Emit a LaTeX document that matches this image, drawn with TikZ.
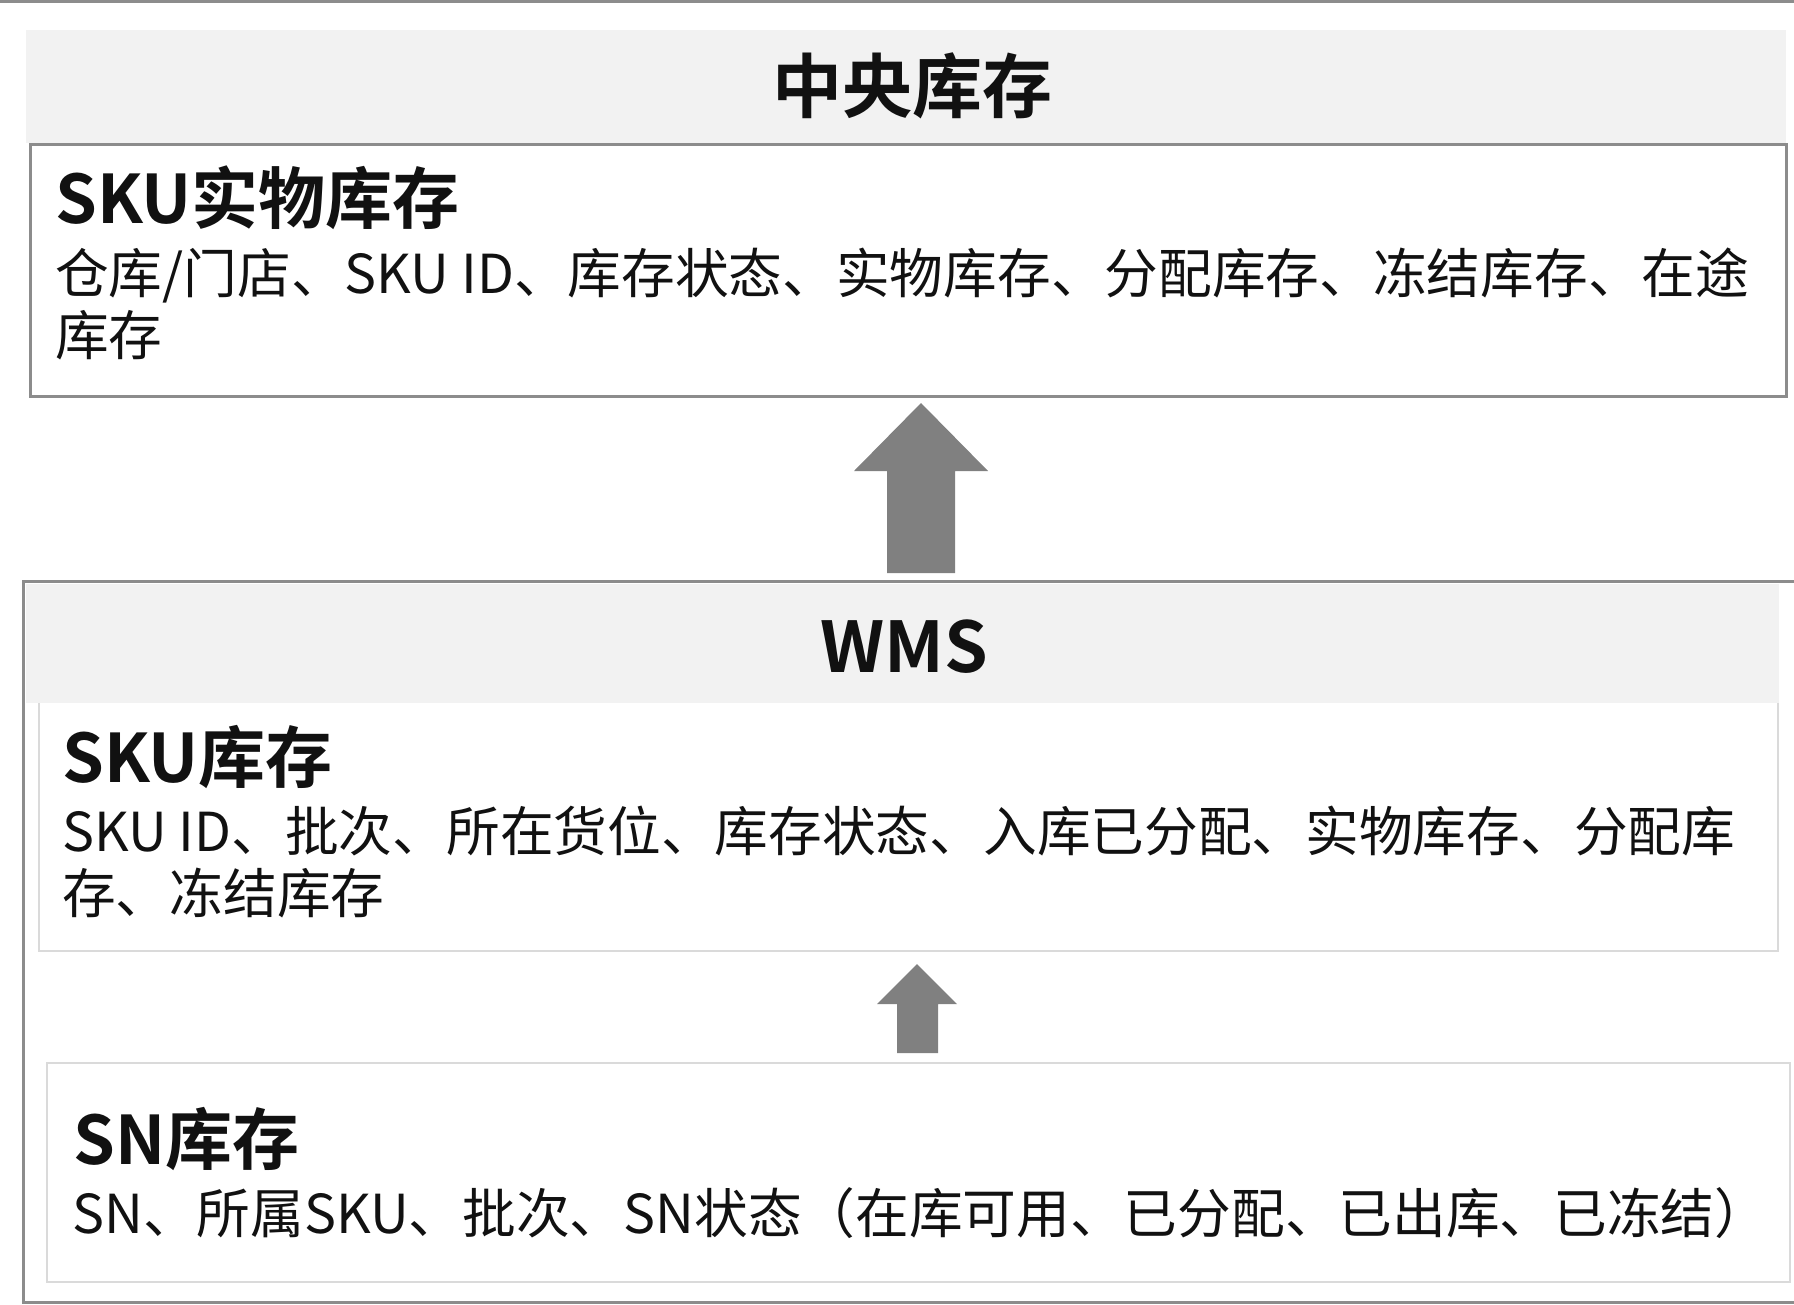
\documentclass[tikz,border=0pt]{standalone}
\usepackage{fontspec}
\setmainfont{Noto Sans CJK SC}[BoldFont={Noto Sans CJK SC Bold}]
\usetikzlibrary{calc}
\definecolor{edgegray}{HTML}{8C8C8C}
\definecolor{softedge}{HTML}{DADADA}
\definecolor{bandgray}{HTML}{F2F2F2}
\definecolor{arrowgray}{HTML}{808080}
\definecolor{ink}{HTML}{111111}
\begin{document}
\begin{tikzpicture}[x=1pt,y=-1pt,
  band/.style={fill=bandgray, draw=none, anchor=north west, inner sep=0},
  outerbox/.style={draw=edgegray, line width=3pt, anchor=north west, inner sep=0},
  innerbox/.style={draw=softedge, line width=2pt, anchor=north west, inner sep=0},
  headtext/.style={font=\bfseries\fontsize{70}{78}\selectfont, text=ink, inner sep=0},
  titletext/.style={font=\bfseries\fontsize{67}{74}\selectfont, text=ink, anchor=west, inner sep=0},
  bodytext/.style={font=\fontsize{53.7}{62}\selectfont, text=ink, anchor=west, align=left, inner sep=0},
  flow/.style={fill=arrowgray, draw=none}]

\useasboundingbox (0,0) rectangle (1794,1304);
\fill[white] (0,0) rectangle (1794,1304);

% rule along the upper edge
\coordinate (ruleL) at (0,1.5);
\coordinate (ruleR) at (1794,1.5);
\draw[edgegray, line width=3pt] (ruleL) -- (ruleR);

% ---------- central inventory ----------
\node[band, minimum width=1760pt, minimum height=113pt] (centralband) at (26,30) {};
\node[headtext] (centraltitle) at (912,86) {中央库存};
\node[outerbox, minimum width=1756pt, minimum height=252pt] (phys) at (29,143) {};
\node[titletext] (physname) at (55,198) {SKU实物库存};
\node[bodytext] (physbody) at (55,304)
  {仓库/门店、SKU ID、库存状态、实物库存、分配库存、冻结库存、在途\\库存};

% ---------- WMS ----------
\node[outerbox, minimum width=1800pt, minimum height=721pt] (wms) at (22,580) {};
\node[innerbox, minimum width=1739pt, minimum height=249pt] (sku) at (38,701) {};
\node[band, minimum width=1753pt, minimum height=119pt] (wmsband) at (26,584) {};
\node[headtext] (wmstitle) at (904,647) {WMS};
\node[titletext] (skuname) at (62,757) {SKU库存};
\node[bodytext] (skubody) at (62,862)
  {SKU ID、批次、所在货位、库存状态、入库已分配、实物库存、分配库\\存、冻结库存};

\node[innerbox, minimum width=1743pt, minimum height=219pt] (sn) at (46,1062) {};
\node[titletext] (snname) at (73,1139) {SN库存};
\node[bodytext] (snbody) at (72,1213)
  {SN、所属SKU、批次、SN状态（在库可用、已分配、已出库、已冻结）};

% ---------- block arrows ----------
% WMS -> central inventory
\coordinate (bigtip) at (921,403);
\fill[flow] (bigtip) -- ++(67,68) -- ++(-33,0) -- ++(0,102) -- ++(-68,0)
  -- ++(0,-102) -- ++(-33,0) -- cycle;
% SN inventory -> SKU inventory
\coordinate (smalltip) at (917,964);
\fill[flow] (smalltip) -- ++(40,40) -- ++(-19,0) -- ++(0,49) -- ++(-41,0)
  -- ++(0,-49) -- ++(-20,0) -- cycle;

\end{tikzpicture}
\end{document}
